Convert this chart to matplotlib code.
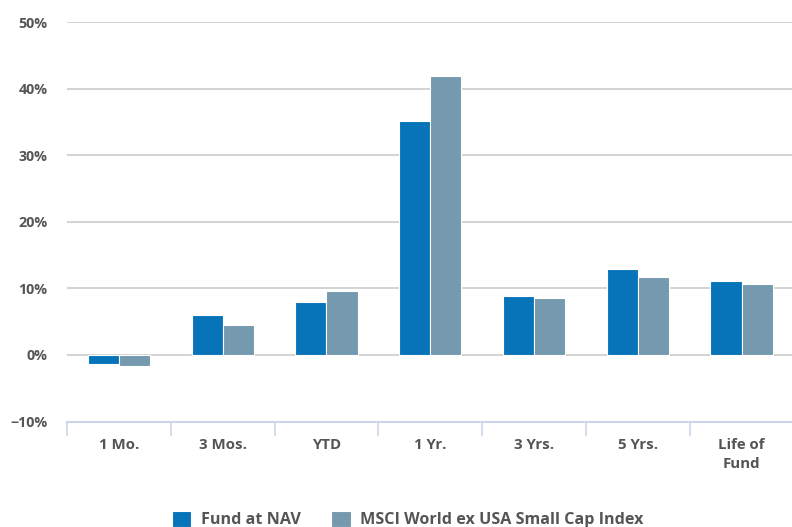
import matplotlib
matplotlib.use("Agg")
import matplotlib.pyplot as plt
import numpy as np

categories = ["1 Mo.", "3 Mos.", "YTD", "1 Yr.", "3 Yrs.", "5 Yrs.", "Life of\nFund"]
fund_nav = [-1.4, 6.0, 7.9, 35.2, 8.8, 12.9, 11.1]
msci_index = [-1.6, 4.5, 9.6, 41.9, 8.6, 11.7, 10.6]
series_names = ["Fund at NAV", "MSCI World ex USA Small Cap Index"]
y_ticks = [-10, 0, 10, 20, 30, 40, 50]

fund_color = "#0773b8"
index_color = "#7599ae"
text_color = "#555555"
grid_color = "#cccccc"
axis_color = "#ccd6eb"

plt.rcParams["font.family"] = ["Open Sans", "DejaVu Sans"]

fig = plt.figure(figsize=(7.92, 5.27), dpi=100)
ax = fig.add_axes([67 / 792, 1 - 421.5 / 527, (793.5 - 67) / 792, (421.5 - 22) / 527])

x = np.arange(len(categories))
w = 0.3
b1 = ax.bar(x - w / 2, fund_nav, w, color=fund_color, edgecolor="white", linewidth=0.8,
            label=series_names[0], zorder=3)
b2 = ax.bar(x + w / 2, msci_index, w, color=index_color, edgecolor="white", linewidth=0.8,
            label=series_names[1], zorder=3)

ax.set_xlim(-0.5, len(categories) - 0.5)
ax.set_ylim(-10, 50)
ax.set_yticks(y_ticks)
ax.set_yticklabels([f"{t}%".replace("-", "\u2212") for t in y_ticks])
for t in y_ticks[1:]:
    ax.axhline(t, color=grid_color, linewidth=1.2, zorder=1)

for s in ["top", "right", "left"]:
    ax.spines[s].set_visible(False)
ax.spines["bottom"].set_color(axis_color)
ax.spines["bottom"].set_linewidth(1.5)

ax.tick_params(axis="y", length=0, pad=14, labelsize=10.3, labelcolor=text_color)
ax.set_xticks(x)
ax.set_xticklabels(categories, linespacing=1.4)
ax.tick_params(axis="x", length=0, pad=12, labelsize=10.8, labelcolor=text_color)
for lab in ax.get_yticklabels() + ax.get_xticklabels():
    lab.set_fontweight("bold")

# category boundary ticks below the axis line
ax.set_xticks(np.arange(-0.5, len(categories), 1.0), minor=True)
ax.tick_params(axis="x", which="minor", length=10, width=1.2, color=axis_color, direction="out")

fig.legend(handles=[b1, b2], loc="upper center", bbox_to_anchor=(0.515, 1 - 496 / 527),
           ncol=2, frameon=False, handlelength=1.2, handleheight=1.2, handletextpad=0.6,
           columnspacing=1.9, prop={"size": 11.6, "weight": "bold"}, labelcolor=text_color)

fig.savefig("out.png", dpi=100)
